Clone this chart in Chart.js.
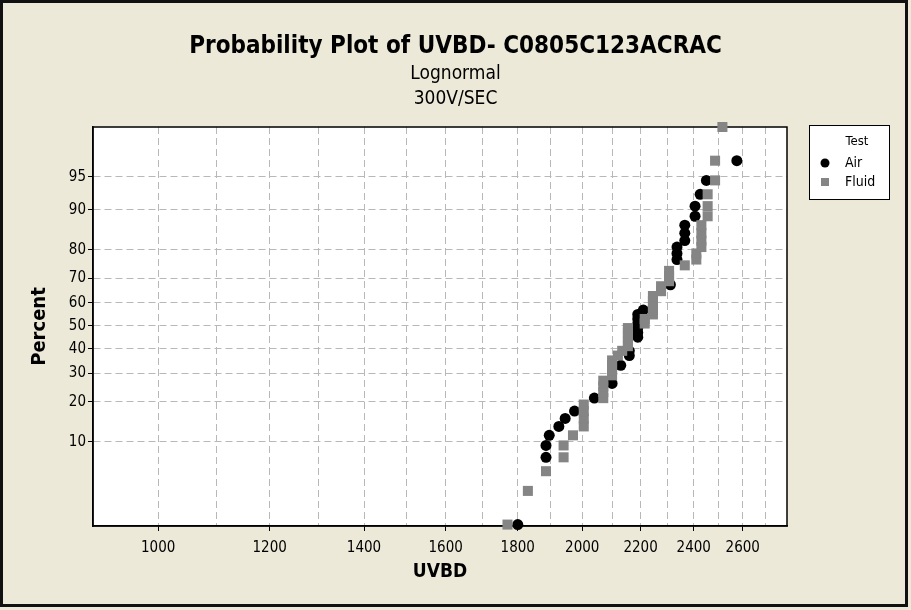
<!DOCTYPE html>
<html>
<head>
<meta charset="utf-8">
<title>Probability Plot of UVBD</title>
<script src="https://cdn.jsdelivr.net/npm/chart.js"></script>
<style>
  html, body { margin: 0; padding: 0; background: #ECE9D8; }
  canvas { display: block; }
</style>
</head>
<body>
<canvas id="plot" width="911" height="610"></canvas>
<script>
// breakdown voltage, Air test
var airUVBD = [1800, 1885, 1885, 1895, 1925, 1945, 1975, 2040, 2100, 2130, 2160, 2160,
  2190, 2190, 2190, 2190, 2190, 2190, 2210, 2310, 2335, 2335, 2335, 2365, 2365, 2365,
  2405, 2405, 2425, 2450, 2575];
var airPct = [1.4, 7.3, 9.3, 11.3, 13.3, 15.3, 17.3, 21.2, 26.2, 33.1, 37.1, 39.1,
  45.0, 47.0, 49.0, 51.0, 53.0, 55.0, 56.9, 67.5, 76.8, 78.8, 80.8, 82.7, 84.7, 86.7,
  88.7, 90.7, 92.7, 94.6, 96.6];

// breakdown voltage, Fluid test
var fluidUVBD = [1770, 1830, 1885, 1940, 1940, 1970, 2005, 2005, 2005, 2005,
  2070, 2070, 2070, 2070, 2100, 2100, 2100, 2100, 2120, 2135,
  2155, 2155, 2155, 2155, 2155, 2215, 2215, 2245, 2245, 2245,
  2245, 2245, 2275, 2275, 2305, 2305, 2305, 2365, 2410, 2410,
  2430, 2430, 2430, 2430, 2455, 2455, 2455, 2485, 2485, 2515];
var fluidPct = [1.4, 3.4, 5.4, 7.3, 9.3, 11.3, 13.3, 15.3, 17.3, 19.2,
  21.2, 23.2, 25.2, 27.2, 29.2, 31.2, 33.1, 35.1, 37.1, 39.1,
  41.1, 43.1, 45.0, 47.0, 49.0, 51.0, 53.0, 55.0, 56.9, 58.9,
  60.9, 62.9, 64.9, 66.9, 68.9, 70.8, 72.8, 74.8, 76.8, 78.8,
  80.8, 82.7, 84.7, 86.7, 88.7, 90.7, 92.7, 94.6, 96.6, 98.6];

var xTickValues = [1000, 1100, 1200, 1300, 1400, 1500, 1600, 1700, 1800, 1900, 2000, 2100, 2200, 2300, 2400, 2500, 2600, 2700];
var xTickLabels = ['1000', '', '1200', '', '1400', '', '1600', '', '1800', '', '2000', '', '2200', '', '2400', '', '2600', ''];
var yTickPct = [10, 20, 30, 40, 50, 60, 70, 80, 90, 95];
var xMin = 899, xMax = 2795;
var yMinPct = 1.345, yMaxPct = 98.6;

var FONT = "'Liberation Sans Narrow', 'DejaVu Sans Condensed', 'Liberation Sans', sans-serif";
var BG = '#ECE9D8';

// inverse of the standard normal CDF (Acklam)
function probit(p) {
  var a = [-3.969683028665376e+01, 2.209460984245205e+02, -2.759285104469687e+02, 1.383577518672690e+02, -3.066479806614716e+01, 2.506628277459239e+00];
  var b = [-5.447609879822406e+01, 1.615858368580409e+02, -1.556989798598866e+02, 6.680131188771972e+01, -1.328068155288572e+01];
  var c = [-7.784894002430293e-03, -3.223964580411365e-01, -2.400758277161838e+00, -2.549732539343734e+00, 4.374664141464968e+00, 2.938163982698783e+00];
  var d = [7.784695709041462e-03, 3.224671290700398e-01, 2.445134137142996e+00, 3.754408661907416e+00];
  var q, r;
  if (p < 0.02425) {
    q = Math.sqrt(-2 * Math.log(p));
    return (((((c[0]*q+c[1])*q+c[2])*q+c[3])*q+c[4])*q+c[5]) / ((((d[0]*q+d[1])*q+d[2])*q+d[3])*q+1);
  }
  if (p > 1 - 0.02425) {
    q = Math.sqrt(-2 * Math.log(1 - p));
    return -(((((c[0]*q+c[1])*q+c[2])*q+c[3])*q+c[4])*q+c[5]) / ((((d[0]*q+d[1])*q+d[2])*q+d[3])*q+1);
  }
  q = p - 0.5; r = q * q;
  return (((((a[0]*r+a[1])*r+a[2])*r+a[3])*r+a[4])*r+a[5])*q / (((((b[0]*r+b[1])*r+b[2])*r+b[3])*r+b[4])*r+1);
}

function points(xs, ps) {
  return xs.map(function (x, i) { return { x: x, y: probit(ps[i] / 100) }; });
}

// beige page, white plot area, black frames
var frame = {
  id: 'frame',
  beforeDraw: function (chart) {
    var ctx = chart.ctx, a = chart.chartArea;
    ctx.save();
    ctx.fillStyle = BG;
    ctx.fillRect(0, 0, chart.width, chart.height);
    ctx.fillStyle = '#fff';
    ctx.fillRect(a.left, a.top, a.right - a.left, a.bottom - a.top);
    ctx.restore();
  },
  beforeDatasetsDraw: function (chart) {
    var ctx = chart.ctx, a = chart.chartArea;
    ctx.save();
    ctx.strokeStyle = '#000';
    ctx.lineWidth = 1.5;
    ctx.strokeRect(a.left, a.top, a.right - a.left, a.bottom - a.top);
    ctx.restore();
  },
  afterDraw: function (chart) {
    var ctx = chart.ctx, a = chart.chartArea;
    ctx.save();
    ctx.strokeStyle = '#111';
    ctx.lineWidth = 3;
    ctx.strokeRect(1.5, 1.5, 905, 604);

    // legend box
    var lx = a.right + 22, ly = a.top - 2, lw = 80, lh = 74;
    ctx.fillStyle = '#fff';
    ctx.fillRect(lx, ly, lw, lh);
    ctx.strokeStyle = '#000';
    ctx.lineWidth = 1;
    ctx.strokeRect(lx + 0.5, ly + 0.5, lw, lh);
    ctx.fillStyle = '#000';
    ctx.font = '13px ' + FONT;
    ctx.textAlign = 'center';
    ctx.textBaseline = 'middle';
    ctx.fillText('Test', lx + 48, ly + 17);
    ctx.textAlign = 'left';
    ctx.font = '14px ' + FONT;
    chart.data.datasets.forEach(function (ds, i) {
      var y = ly + 38 + i * 19;
      ctx.fillStyle = ds.backgroundColor;
      if (ds.pointStyle === 'rect') {
        ctx.fillRect(lx + 12, y - 4, 8, 8);
      } else {
        ctx.beginPath();
        ctx.arc(lx + 16, y, 4.5, 0, Math.PI * 2);
        ctx.fill();
      }
      ctx.fillStyle = '#000';
      ctx.fillText(ds.label, lx + 36, y);
    });
    ctx.restore();
  }
};

new Chart(document.getElementById('plot'), {
  type: 'scatter',
  data: {
    datasets: [
      {
        label: 'Air',
        data: points(airUVBD, airPct),
        pointStyle: 'circle',
        pointRadius: 5.5,
        borderWidth: 0,
        backgroundColor: '#000',
        order: 1,
        clip: false
      },
      {
        label: 'Fluid',
        data: points(fluidUVBD, fluidPct),
        pointStyle: 'rect',
        pointRadius: 7.1,
        borderWidth: 0,
        backgroundColor: '#858585',
        order: 0,
        clip: false
      }
    ]
  },
  options: {
    responsive: false,
    animation: false,
    events: [],
    layout: { padding: { left: 0, right: 0, top: 0, bottom: 24 } },
    plugins: {
      legend: { display: false },
      tooltip: { enabled: false },
      title: {
        display: true,
        text: 'Probability Plot of UVBD- C0805C123ACRAC',
        color: '#000',
        font: { family: FONT, size: 24, weight: 'bold', lineHeight: 1.2 },
        padding: { top: 32.5, bottom: 0 }
      },
      subtitle: {
        display: true,
        text: ['Lognormal', '300V/SEC'],
        color: '#000',
        font: { family: FONT, size: 19, lineHeight: 1.316 },
        padding: { top: 0, bottom: 15.7 }
      }
    },
    scales: {
      x: {
        type: 'logarithmic',
        min: xMin,
        max: xMax,
        afterBuildTicks: function (s) {
          s.ticks = xTickValues.map(function (v) { return { value: v }; });
        },
        afterFit: function (s) { s.height = 60; },
        ticks: {
          autoSkip: false,
          maxRotation: 0,
          minRotation: 0,
          padding: 8,
          color: '#000',
          font: { family: FONT, size: 15 },
          callback: function (v, i) { return xTickLabels[i]; }
        },
        grid: {
          color: '#b8b8b8',
          lineWidth: 1,
          tickLength: 5,
          tickColor: function (c) { return xTickLabels[c.index] ? '#000' : 'rgba(0,0,0,0)'; }
        },
        border: { color: '#000', width: 1.5, dash: [7, 4] },
        title: {
          display: true,
          text: 'UVBD',
          color: '#000',
          font: { family: FONT, size: 19, weight: 'bold', lineHeight: 1.2 },
          padding: { top: 0, bottom: 2.6 }
        }
      },
      y: {
        type: 'linear',
        min: probit(yMinPct / 100),
        max: probit(yMaxPct / 100),
        afterBuildTicks: function (s) {
          s.ticks = yTickPct.map(function (p) { return { value: probit(p / 100) }; });
        },
        afterFit: function (s) { s.width = 93; },
        ticks: {
          autoSkip: false,
          padding: 2,
          color: '#000',
          font: { family: FONT, size: 15 },
          callback: function (v, i) { return String(yTickPct[i]); }
        },
        grid: {
          color: '#b8b8b8',
          lineWidth: 1,
          tickLength: 5,
          tickColor: '#000'
        },
        border: { color: '#000', width: 1.5, dash: [7, 4] },
        title: {
          display: true,
          text: 'Percent',
          color: '#000',
          font: { family: FONT, size: 20, weight: 'bold', lineHeight: 1.2 },
          padding: { top: 28, bottom: 0 }
        }
      },
      // empty right-hand axis that keeps room for the legend box
      side: {
        type: 'linear',
        position: 'right',
        afterFit: function (s) { s.width = 124; },
        ticks: { display: false },
        grid: { display: false, drawOnChartArea: false },
        border: { display: false }
      }
    }
  },
  plugins: [frame]
});
</script>
</body>
</html>
